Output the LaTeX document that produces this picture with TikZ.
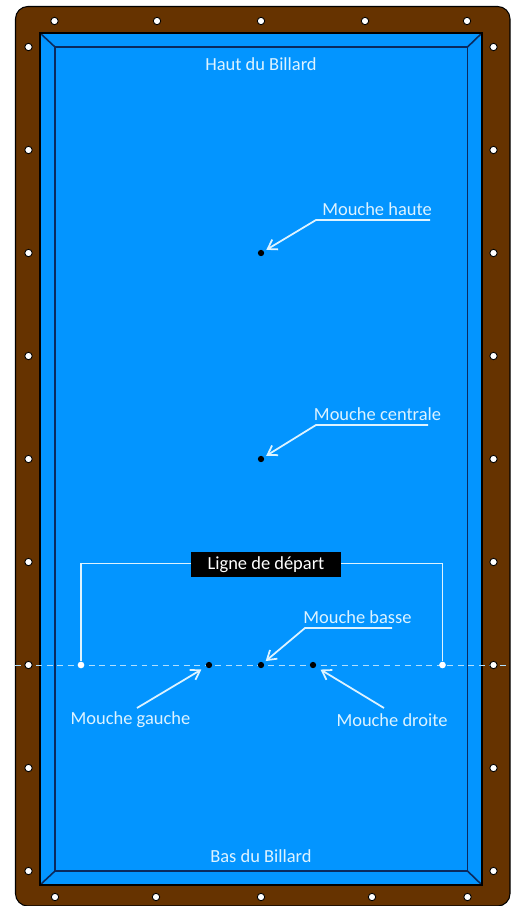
\documentclass[tikz,border=0pt]{standalone}
\usepackage{fontspec}
\setmainfont{Carlito}
\usetikzlibrary{arrows.meta}
\definecolor{railbrown}{HTML}{663300}
\definecolor{clothblue}{HTML}{0395FF}
\definecolor{linenavy}{HTML}{0A2A5E}
\definecolor{whiteline}{HTML}{DDF3FF}
\tikzset{
	diamondhole/.style={circle, draw=black, fill=white, line width=0.5pt, minimum size=4.2pt, inner sep=0pt},
	spotdot/.style={circle, fill=black, minimum size=3.6pt, inner sep=0pt},
	enddot/.style={circle, fill=white, minimum size=3.8pt, inner sep=0pt},
	whitetext/.style={font=\fontsize{10.5}{12}\selectfont, text=whiteline, inner sep=0pt},
	callout/.style={draw=whiteline, line width=1pt},
	calloutarrow/.style={callout, -{Straight Barb[length=5pt,width=6.5pt]}, shorten >=1.5pt}
}
\begin{document}
\begin{tikzpicture}[x=0.02cm, y=-0.02cm]
      \useasboundingbox (0,0) rectangle (517,906);
      \begin{scope}
      \clip (0,0) rectangle (517,906);
      % frame, cushions and cloth
      \draw[fill=railbrown, line width=0.6pt, rounded corners=7pt] (15.5,6.5) rectangle (510,906);
      \fill[clothblue] (40,33) rectangle (482,885);
      \draw[linenavy, line width=0.9pt] (55,47) rectangle (467.5,871);
      \draw[linenavy, line width=0.9pt] (40,33) -- (55,47) (482,33) -- (467.5,47)
        (40,885) -- (55,871) (482,885) -- (467.5,871);
      \draw[black, line width=0.9pt] (40,33) rectangle (482,885);
      \end{scope}
      % diamonds along the rails
      \foreach \i/\x in {1/54.5, 2/157, 3/261, 4/365, 5/467} {
        \node[diamondhole] (top\i) at (\x,21) {};
      }
      \foreach \i/\x in {1/55, 2/156, 3/261, 4/372, 5/467.5} {
        \node[diamondhole] (bottom\i) at (\x,897) {};
      }
      % start line goes under the side diamonds
      \coordinate (startleft) at (15,665);
      \coordinate (startright) at (507,665);
      \draw[whiteline!80!clothblue, line width=0.45pt, dash pattern=on 3.4pt off 2.6pt] (startleft) -- (startright);
      \foreach \i/\y in {1/47, 2/150, 3/253, 4/356, 5/459, 6/562, 7/665, 8/768, 9/871} {
        \node[diamondhole] (left\i) at (28.5,\y) {};
        \node[diamondhole] (right\i) at (493.5,\y) {};
      }
      % spots
      \node[spotdot] (spothaute) at (261,253) {};
      \node[spotdot] (spotcentrale) at (261,459) {};
      \node[spotdot] (spotbasse) at (261,665) {};
      \node[spotdot] (spotgauche) at (209,665) {};
      \node[spotdot] (spotdroite) at (313,665) {};
      \node[enddot] (endleft) at (81,665) {};
      \node[enddot] (endright) at (442.5,665) {};
      % texts
      \node[whitetext] (haut) at (261,64) {Haut du Billard};
      \node[whitetext] (bas) at (261,856) {Bas du Billard};
      \node[whitetext] (labelhaute) at (377,209.5) {Mouche haute};
      \node[whitetext] (labelcentrale) at (377.5,414.5) {Mouche centrale};
      \node[whitetext] (labelbasse) at (357.5,617.5) {Mouche basse};
      \node[whitetext] (labelgauche) at (130.5,720) {Mouche gauche};
      \node[whitetext] (labeldroite) at (392,720) {Mouche droite};
      \node[fill=black, text=white, font=\fontsize{10.5}{12}\selectfont, minimum width=85pt, minimum height=14pt, inner sep=0pt] (depart) at (266,564.5) {Ligne de départ};
      % callouts with a bent leader
      \coordinate (endhaute) at (430,220);
      \coordinate (benthaute) at (316,220);
      \coordinate (endcentrale) at (428,425);
      \coordinate (bentcentrale) at (316,425);
      \coordinate (endbasse) at (392,628);
      \coordinate (bentbasse) at (305,628);
      \draw[calloutarrow] (endhaute) -- (benthaute) -- (spothaute);
      \draw[calloutarrow] (endcentrale) -- (bentcentrale) -- (spotcentrale);
      \draw[calloutarrow] (endbasse) -- (bentbasse) -- (spotbasse);
      % straight arrows from the labels below the line
      \coordinate (startgauche) at (137,708);
      \coordinate (startdroite) at (384,708);
      \draw[calloutarrow, shorten >=3pt] (startgauche) -- (spotgauche);
      \draw[calloutarrow, shorten >=3pt] (startdroite) -- (spotdroite);
      % bracket of the start line
      \draw[callout] (depart.west |- 0,563.5) -| (endleft);
      \draw[callout] (depart.east |- 0,563.5) -| (endright);
    \end{tikzpicture}
\end{document}
